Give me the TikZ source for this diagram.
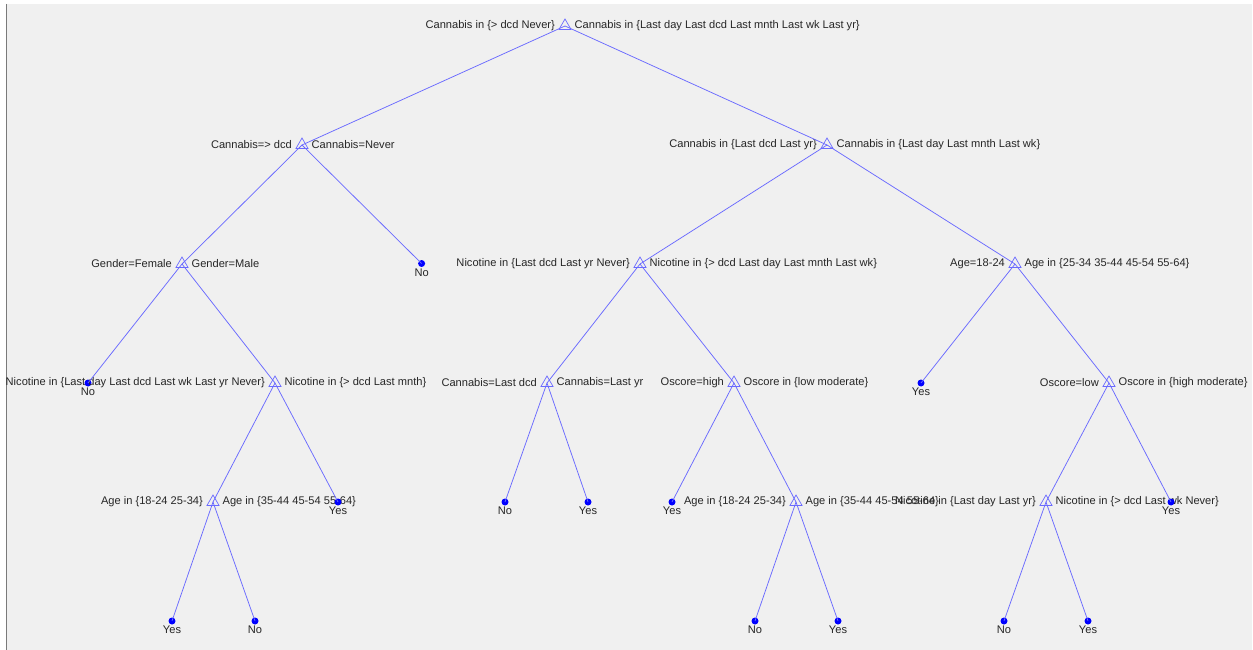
\documentclass[tikz,border=0pt]{standalone}
\usepackage{fontspec}
\setmainfont{Liberation Sans}
\usetikzlibrary{shapes.geometric,positioning}
\definecolor{panel}{HTML}{F0F0F0}
\definecolor{frame}{HTML}{7A7A7A}
\definecolor{edgeblue}{HTML}{6A6AFF}
\definecolor{leafblue}{HTML}{0000FF}
\definecolor{ink}{HTML}{262626}

\begin{document}
\begin{tikzpicture}[
    x=1pt, y=-1pt,
    font=\fontsize{11.1}{13}\selectfont,
    split/.style={draw=edgeblue, line width=0.7pt, regular polygon, regular polygon sides=3, minimum size=14pt, inner sep=0pt},
    leaf/.style={circle, fill=leafblue, minimum size=7pt, inner sep=0pt, label distance=-0.5pt},
    lbl/.style={text=ink, inner sep=1pt},
    lblL/.style={lbl, xshift=-4.5pt},
    lblR/.style={lbl, xshift=4pt},
    branch/.style={color=edgeblue, line width=0.75pt}
  ]
    \useasboundingbox (0,0) rectangle (1253,650);
    \fill[white] (0,0) rectangle (1253,650);
    \fill[panel] (7,4) rectangle (1252,650);
    \draw[frame, line width=1.2pt] (6.5,4) -- (6.5,650);

    % level 0
    \node[split, label={[lblL]left:{Cannabis in \{> dcd Never\}}}, label={[lblR]right:{Cannabis in \{Last day Last dcd Last mnth Last wk Last yr\}}}] (root) at (565,26) {};
    % level 1
    \node[split, label={[lblL]left:{Cannabis=> dcd}}, label={[lblR]right:{Cannabis=Never}}] (cnLow) at (302,145) {};
    \node[split, label={[lblL]left:{Cannabis in \{Last dcd Last yr\}}}, label={[lblR]right:{Cannabis in \{Last day Last mnth Last wk\}}}] (cnHigh) at (827,145) {};
    % level 2
    \node[split, label={[lblL]left:{Gender=Female}}, label={[lblR]right:{Gender=Male}}] (gender) at (182,264) {};
    \node[leaf, label={[lbl]below:No}] (leafA) at (421.6,263.5) {};
    \node[split, label={[lblL]left:{Nicotine in \{Last dcd Last yr Never\}}}, label={[lblR]right:{Nicotine in \{> dcd Last day Last mnth Last wk\}}}] (nicA) at (640,264) {};
    \node[split, label={[lblL]left:{Age=18-24}}, label={[lblR]right:{Age in \{25-34 35-44 45-54 55-64\}}}] (ageA) at (1015,264) {};
    % level 3
    \node[leaf, label={[lbl]below:No}] (leafB) at (88,383) {};
    \node[split, label={[lblL]left:{Nicotine in \{Last day Last dcd Last wk Last yr Never\}}}, label={[lblR]right:{Nicotine in \{> dcd Last mnth\}}}] (nicB) at (275,383) {};
    \node[split, label={[lblL]left:{Cannabis=Last dcd}}, label={[lblR]right:{Cannabis=Last yr}}] (cnC) at (547,383) {};
    \node[split, label={[lblL]left:{Oscore=high}}, label={[lblR]right:{Oscore in \{low moderate\}}}] (osA) at (734,383) {};
    \node[leaf, label={[lbl]below:Yes}] (leafC) at (921,383) {};
    \node[split, label={[lblL]left:{Oscore=low}}, label={[lblR]right:{Oscore in \{high moderate\}}}] (osB) at (1109,383) {};
    % level 4
    \node[split, label={[lblL]left:{Age in \{18-24 25-34\}}}, label={[lblR]right:{Age in \{35-44 45-54 55-64\}}}] (ageB) at (213,502) {};
    \node[leaf, label={[lbl]below:Yes}] (leafD) at (338,502) {};
    \node[leaf, label={[lbl]below:No}] (leafE) at (505,502) {};
    \node[leaf, label={[lbl]below:Yes}] (leafF) at (588,502) {};
    \node[leaf, label={[lbl]below:Yes}] (leafG) at (672,502) {};
    \node[split, label={[lblL]left:{Age in \{18-24 25-34\}}}, label={[lblR]right:{Age in \{35-44 45-54 55-64\}}}] (ageC) at (796,502) {};
    \node[split, label={[lblL]left:{Nicotine in \{Last day Last yr\}}}, label={[lblR]right:{Nicotine in \{> dcd Last wk Never\}}}] (nicC) at (1046,502) {};
    \node[leaf, label={[lbl]below:Yes}] (leafH) at (1171,502) {};
    % level 5
    \node[leaf, label={[lbl]below:Yes}] (leafI) at (172,621) {};
    \node[leaf, label={[lbl]below:No}] (leafJ) at (255,621) {};
    \node[leaf, label={[lbl]below:No}] (leafK) at (755,621) {};
    \node[leaf, label={[lbl]below:Yes}] (leafL) at (838,621) {};
    \node[leaf, label={[lbl]below:No}] (leafM) at (1004,621) {};
    \node[leaf, label={[lbl]below:Yes}] (leafN) at (1088,621) {};

    % branches
    \foreach \a/\b in {root/cnLow, root/cnHigh, cnLow/gender, cnLow/leafA, cnHigh/nicA, cnHigh/ageA,
                       gender/leafB, gender/nicB, nicB/ageB, nicB/leafD, ageB/leafI, ageB/leafJ,
                       nicA/cnC, nicA/osA, cnC/leafE, cnC/leafF, osA/leafG, osA/ageC, ageC/leafK, ageC/leafL,
                       ageA/leafC, ageA/osB, osB/nicC, osB/leafH, nicC/leafM, nicC/leafN}
      \draw[branch] (\a.center) -- (\b.center);
  \end{tikzpicture}
\end{document}
